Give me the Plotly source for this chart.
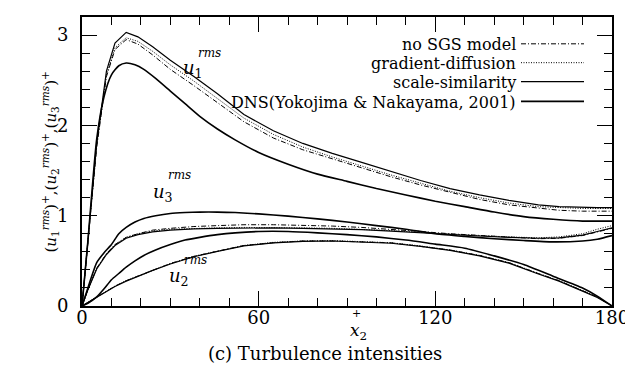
import plotly.graph_objects as go

# ---------------- data ----------------
X_LES = [0, 2, 5, 8.3, 11.2, 15, 19, 24, 30, 38, 46, 55, 65, 75, 85, 95, 105, 115,
         125, 135, 145, 155, 162, 170, 175, 180]

U1_NS = [0, 0.73, 1.76, 2.54, 2.84, 2.95, 2.90, 2.78, 2.62, 2.44, 2.25, 2.04, 1.86, 1.73,
         1.63, 1.53, 1.43, 1.34, 1.26, 1.18, 1.12, 1.08, 1.06, 1.05, 1.05, 1.05]
U1_GD = [0, 0.74, 1.78, 2.56, 2.86, 2.97, 2.93, 2.82, 2.67, 2.49, 2.30, 2.08, 1.90, 1.76,
         1.65, 1.55, 1.45, 1.36, 1.27, 1.20, 1.14, 1.10, 1.09, 1.08, 1.08, 1.08]
U1_SS = [0, 0.75, 1.80, 2.60, 2.91, 3.03, 2.98, 2.87, 2.72, 2.54, 2.35, 2.12, 1.94, 1.80,
         1.69, 1.59, 1.49, 1.39, 1.30, 1.23, 1.17, 1.12, 1.10, 1.09, 1.09, 1.09]

U3_NS = [0, 0.18, 0.42, 0.58, 0.68, 0.76, 0.80, 0.84, 0.86, 0.88, 0.89, 0.90, 0.90, 0.895,
         0.885, 0.87, 0.85, 0.825, 0.80, 0.78, 0.76, 0.745, 0.75, 0.78, 0.82, 0.86]
U3_GD = [0, 0.18, 0.42, 0.58, 0.68, 0.76, 0.80, 0.83, 0.85, 0.86, 0.865, 0.87, 0.87, 0.865,
         0.86, 0.85, 0.835, 0.815, 0.795, 0.78, 0.765, 0.755, 0.765, 0.80, 0.85, 0.89]
U3_SS = [0, 0.18, 0.41, 0.57, 0.67, 0.75, 0.79, 0.82, 0.84, 0.855, 0.86, 0.865, 0.865, 0.86,
         0.855, 0.845, 0.83, 0.81, 0.79, 0.775, 0.76, 0.75, 0.755, 0.785, 0.825, 0.865]

U2_NS = [0, 0.04, 0.10, 0.17, 0.22, 0.28, 0.33, 0.40, 0.47, 0.55, 0.61, 0.67, 0.70, 0.72,
         0.72, 0.71, 0.70, 0.66, 0.62, 0.56, 0.48, 0.36, 0.28, 0.17, 0.10, 0]
U2_GD = [0, 0.04, 0.10, 0.17, 0.22, 0.28, 0.33, 0.40, 0.47, 0.55, 0.61, 0.67, 0.705, 0.72,
         0.725, 0.715, 0.70, 0.665, 0.62, 0.56, 0.48, 0.36, 0.28, 0.17, 0.10, 0]
U2_SS = [0, 0.04, 0.10, 0.165, 0.215, 0.275, 0.33, 0.395, 0.465, 0.545, 0.605, 0.665, 0.70,
         0.715, 0.72, 0.71, 0.695, 0.66, 0.615, 0.555, 0.475, 0.355, 0.275, 0.165, 0.095, 0]

X_DNS = [0, 2, 5, 7.5, 10, 12.5, 15, 18, 21, 25, 30, 35, 40, 46, 52, 60, 70, 80, 90, 100,
         110, 120, 130, 140, 150, 160, 170, 175, 180]
U1_DNS = [0, 0.72, 1.85, 2.32, 2.56, 2.66, 2.69, 2.67, 2.62, 2.52, 2.38, 2.24, 2.10, 1.96,
          1.84, 1.70, 1.57, 1.46, 1.38, 1.30, 1.23, 1.16, 1.10, 1.04, 0.99, 0.96, 0.94,
          0.94, 0.94]
U3_DNS = [0, 0.20, 0.48, 0.59, 0.68, 0.80, 0.87, 0.93, 0.97, 1.00, 1.025, 1.035, 1.04, 1.04,
          1.035, 1.02, 0.995, 0.965, 0.93, 0.89, 0.85, 0.80, 0.77, 0.745, 0.725, 0.71,
          0.72, 0.74, 0.78]
U2_DNS = [0, 0.03, 0.10, 0.19, 0.29, 0.36, 0.43, 0.50, 0.56, 0.62, 0.68, 0.73, 0.76, 0.79,
          0.81, 0.825, 0.825, 0.81, 0.79, 0.765, 0.73, 0.685, 0.64, 0.555, 0.46, 0.33,
          0.20, 0.11, 0]

LEGEND_LABELS = ["no SGS model", "gradient-diffusion", "scale-similarity",
                 "DNS(Yokojima & Nakayama, 2001)"]
X_TICKS = [0, 60, 120, 180]
Y_TICKS = [0, 1, 2, 3]
CAPTION = "(c) Turbulence intensities"

# ---------------- styles ----------------
FONT = "DejaVu Serif"
STY = [
    dict(color="black", width=1, dash="5px,2px,1px,2px"),   # no SGS
    dict(color="black", width=1, dash="1px,1.5px"),          # gradient-diffusion
    dict(color="black", width=1.2),                          # scale-similarity
    dict(color="black", width=1.6),                          # DNS
]

fig = go.Figure()
les_sets = [(U1_NS, U1_GD, U1_SS), (U3_NS, U3_GD, U3_SS), (U2_NS, U2_GD, U2_SS)]
for grp in les_sets:
    for k, ys in enumerate(grp):
        fig.add_trace(go.Scatter(x=X_LES, y=ys, mode="lines", line=STY[k],
                                 showlegend=False, hoverinfo="skip"))
for ys in (U1_DNS, U3_DNS, U2_DNS):
    fig.add_trace(go.Scatter(x=X_DNS, y=ys, mode="lines",
                             line=dict(STY[3], shape="spline", smoothing=0.6),
                             showlegend=False, hoverinfo="skip"))

L, R, T, B = 74, 29, 7, 78
W, H = 633, 376
PW, PH = W - L - R, H - T - B


def px(xp):
    return (xp - L) / PW


def py(yp):
    return (H - B - yp) / PH


ann = []
shapes = []
rows = [35, 54, 73, 93]
for i, lab in enumerate(LEGEND_LABELS):
    ann.append(dict(x=px(510), y=py(rows[i]), xref="paper", yref="paper", text=lab,
                    showarrow=False, xanchor="right", yanchor="middle",
                    font=dict(family=FONT, size=16, color="black")))
    shapes.append(dict(type="line", xref="paper", yref="paper", x0=px(513), x1=px(576),
                       y0=py(rows[i] - 1), y1=py(rows[i] - 1), line=STY[i]))

# curve labels
for (xu, yu, xr, yr, n) in [(185, 59, 201, 43, 1), (155, 184, 171, 166, 3),
                            (171, 269, 187, 252, 2)]:
    ann.append(dict(x=px(xu), y=py(yu), xref="paper", yref="paper",
                    text="<i>u</i><sub>%d</sub>" % n, showarrow=False,
                    xanchor="center", yanchor="middle",
                    font=dict(family=FONT, size=18, color="black")))
    ann.append(dict(x=px(xr), y=py(yr), xref="paper", yref="paper",
                    text="<i>rms</i>", showarrow=False, xanchor="center", yanchor="middle",
                    font=dict(family=FONT, size=12, color="black")))

# axis titles
ann.append(dict(x=px(350), y=py(337), xref="paper", yref="paper",
                text="<i>x</i><sub>2</sub>", showarrow=False,
                font=dict(family=FONT, size=17, color="black")))
ann.append(dict(x=px(348), y=py(314), xref="paper", yref="paper", text="+",
                showarrow=False, font=dict(family=FONT, size=11, color="black")))
ytitle = ",".join("(<i>u</i><sub>%d</sub><sup><i>rms</i></sup>)<sup>+</sup>" % n
                  for n in (1, 2, 3))
ann.append(dict(x=px(30), y=py(153), xref="paper", yref="paper", text=ytitle,
                textangle=-90, showarrow=False,
                font=dict(family=FONT, size=15, color="black")))
ann.append(dict(x=px(317), y=py(358), xref="paper", yref="paper", text=CAPTION,
                showarrow=False, font=dict(family=FONT, size=18, color="black")))

axis_common = dict(showline=True, linewidth=2, linecolor="black", mirror="ticks",
                   ticks="inside", ticklen=15, tickwidth=1, tickcolor="black",
                   showgrid=False, zeroline=False,
                   tickfont=dict(family=FONT, size=18, color="black"))
fig.update_layout(
    width=W, height=H, margin=dict(l=L, r=R, t=T, b=B),
    paper_bgcolor="white", plot_bgcolor="white", showlegend=False,
    font=dict(family=FONT),
    xaxis=dict(axis_common, range=[0, 180], tickvals=X_TICKS, ticklabelstandoff=-6,
               minor=dict(dtick=10, ticklen=8, ticks="inside", tickcolor="black",
                          tickwidth=1)),
    yaxis=dict(axis_common, range=[0, 3.2], tickvals=Y_TICKS, ticklabelstandoff=8,
               minor=dict(dtick=0.2, ticklen=8, ticks="inside", tickcolor="black",
                          tickwidth=1)),
    annotations=ann, shapes=shapes,
)
fig.write_html("out.html")
